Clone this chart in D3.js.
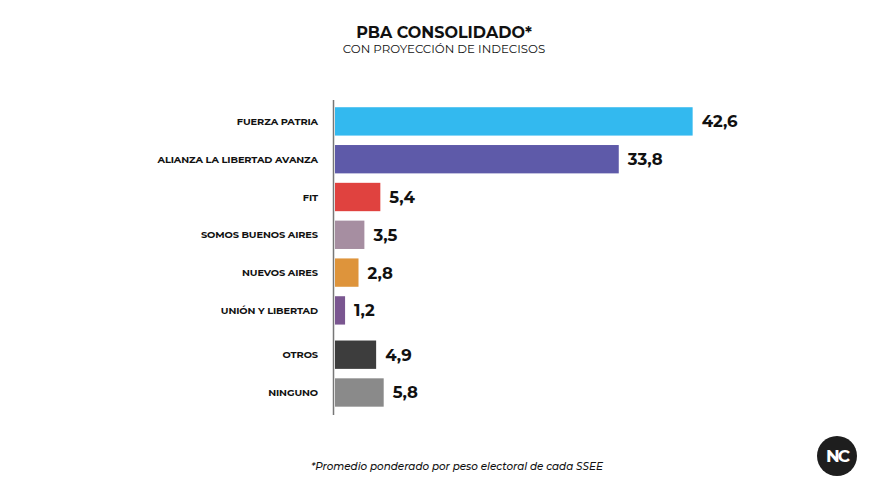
<!DOCTYPE html>
<html>
<head>
<meta charset="utf-8">
<script src="https://cdn.jsdelivr.net/npm/d3@7"></script>
<style>
  html, body { margin: 0; padding: 0; background: #fff; }
  svg { display: block; }
</style>
</head>
<body>
<svg id="canvas" width="889" height="502"></svg>
<script>
// Datos
let partidos = ['FUERZA PATRIA', 'ALIANZA LA LIBERTAD AVANZA', 'FIT', 'SOMOS BUENOS AIRES',
                'NUEVOS AIRES', 'UNIÓN Y LIBERTAD', 'OTROS', 'NINGUNO'];
let valores = [42.6, 33.8, 5.4, 3.5, 2.8, 1.2, 4.9, 5.8];
let colores = ['#33b9ef', '#5e5aa9', '#e0423f', '#a68ea1', '#de943b', '#7a5690', '#3d3d3d', '#8a8a8a'];
let grupoResto = ['OTROS', 'NINGUNO'];

let canvas = d3.select('#canvas');
let fuente = 'Montserrat, "Open Sans", "DejaVu Sans", sans-serif';

// Titulo
canvas.append('text')
    .attr('x', 444).attr('y', 38)
    .attr('text-anchor', 'middle')
    .attr('font-family', fuente)
    .attr('font-weight', 700)
    .attr('font-size', 16)
    .attr('fill', '#111')
    .text('PBA CONSOLIDADO*');

canvas.append('text')
    .attr('x', 444).attr('y', 53)
    .attr('text-anchor', 'middle')
    .attr('font-family', fuente)
    .attr('font-size', 11.8)
    .attr('fill', '#111')
    .text('CON PROYECCIÓN DE INDECISOS');

// Escalas
let x0 = 335;
let xScale = d3.scaleLinear().domain([0, 43]).range([0, 361]);
let yScale = d3.scaleBand()
    .domain(partidos)
    .range([102.5, 404.9])
    .paddingInner(0.25)
    .paddingOuter(0.125);
let gap = 6.5;
let yPos = (p) => yScale(p) + (grupoResto.includes(p) ? gap : 0);

let datos = partidos.map((p, i) => ({ partido: p, valor: valores[i], color: colores[i] }));

// Barras
let filas = canvas.selectAll('g.fila')
    .data(datos)
    .enter()
    .append('g')
    .attr('class', 'fila')
    .attr('transform', (d) => 'translate(0, ' + yPos(d.partido) + ')');

filas.append('rect')
    .attr('x', x0)
    .attr('y', 0)
    .attr('width', (d) => xScale(d.valor))
    .attr('height', yScale.bandwidth())
    .attr('fill', (d) => d.color);

filas.append('text')
    .attr('x', 318)
    .attr('y', yScale.bandwidth() / 2)
    .attr('dy', '0.36em')
    .attr('text-anchor', 'end')
    .attr('font-family', fuente)
    .attr('font-weight', 700)
    .attr('font-size', 9.8)
    .attr('letter-spacing', -0.1)
    .attr('fill', '#111')
    .text((d) => d.partido);

filas.append('text')
    .attr('x', (d) => x0 + xScale(d.valor) + 9)
    .attr('y', yScale.bandwidth() / 2)
    .attr('dy', '0.36em')
    .attr('font-family', fuente)
    .attr('font-weight', 700)
    .attr('font-size', 16.5)
    .attr('fill', '#111')
    .text((d) => d3.format('.1f')(d.valor).replace('.', ','));

// Eje
canvas.append('line')
    .attr('x1', 333.5).attr('x2', 333.5)
    .attr('y1', 100).attr('y2', 415)
    .attr('stroke', '#777')
    .attr('stroke-width', 1.5);

// Nota
canvas.append('text')
    .attr('x', 457).attr('y', 470)
    .attr('text-anchor', 'middle')
    .attr('font-family', fuente)
    .attr('font-style', 'italic')
    .attr('font-weight', 500)
    .attr('font-size', 10.4)
    .attr('fill', '#111')
    .text('*Promedio ponderado por peso electoral de cada SSEE');

// Logo
let logo = canvas.append('g').attr('transform', 'translate(837, 456)');
logo.append('circle').attr('r', 20).attr('fill', '#1e1e1e');
logo.append('text')
    .attr('text-anchor', 'middle')
    .attr('dy', '0.36em')
    .attr('font-family', fuente)
    .attr('font-weight', 700)
    .attr('font-size', 17)
    .attr('letter-spacing', -2)
    .attr('fill', '#fff')
    .text('NC');
</script>
</body>
</html>
